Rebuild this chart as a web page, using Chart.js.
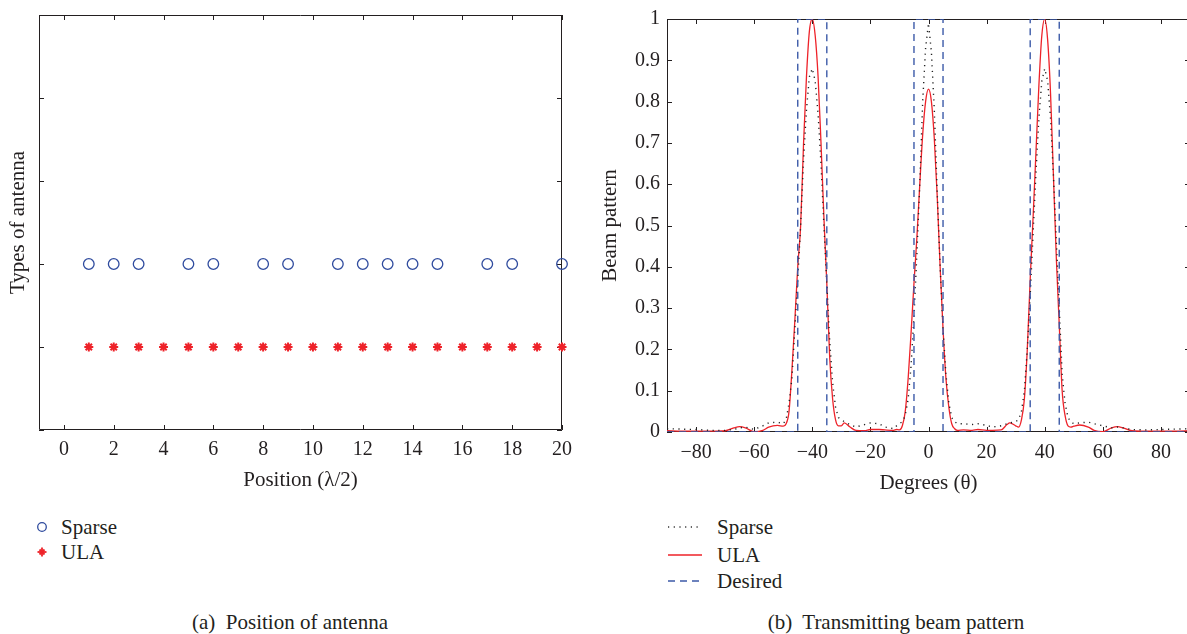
<!DOCTYPE html>
<html>
<head>
<meta charset="utf-8">
<script src="https://cdn.jsdelivr.net/npm/chart.js@4.4.1/dist/chart.umd.min.js"></script>
<style>
html,body{margin:0;padding:0;background:#fff;overflow:hidden;width:1187px;height:634px}
body{position:relative;font-family:"Liberation Serif","Times New Roman",serif;color:#231f20}
.box{position:absolute;top:0;height:500px}
#boxA{left:0;width:580px}
#boxB{left:590px;width:604px}
.t{position:absolute;font-size:21px;line-height:24px;white-space:nowrap}
.sym{position:absolute}
.cap{transform:translateX(-50%)}
</style>
</head>
<body>
<div class="box" id="boxA"><canvas id="posChart"></canvas></div>
<div class="box" id="boxB"><canvas id="beamChart"></canvas></div>

<!-- legend (a) -->
<svg class="sym" style="left:34px;top:519px" width="16" height="16"><circle cx="8" cy="8" r="4.3" fill="none" stroke="#2f4b9e" stroke-width="1.3"/></svg>
<div class="t" style="left:61px;top:515px">Sparse</div>
<svg class="sym" style="left:34px;top:544px" width="16" height="16"><g stroke="#ee2229" stroke-width="1.8"><line x1="8" y1="3.5" x2="8" y2="12.5"/><line x1="3.5" y1="8" x2="12.5" y2="8"/><line x1="5.5" y1="5.5" x2="10.5" y2="10.5"/><line x1="10.5" y1="5.5" x2="5.5" y2="10.5"/></g></svg>
<div class="t" style="left:61px;top:540px">ULA</div>

<!-- legend (b) -->
<svg class="sym" style="left:666px;top:519px" width="40" height="16"><line x1="2" y1="8" x2="36" y2="8" stroke="#333" stroke-width="1.3" stroke-dasharray="1.2 4.5"/></svg>
<div class="t" style="left:717px;top:515px">Sparse</div>
<svg class="sym" style="left:666px;top:547px" width="40" height="16"><line x1="2" y1="8" x2="36" y2="8" stroke="#ee2229" stroke-width="1.4"/></svg>
<div class="t" style="left:717px;top:543px">ULA</div>
<svg class="sym" style="left:666px;top:573px" width="40" height="16"><line x1="2" y1="8" x2="36" y2="8" stroke="#3c5aa8" stroke-width="1.4" stroke-dasharray="7 5"/></svg>
<div class="t" style="left:717px;top:569px">Desired</div>

<div class="t cap" style="left:290px;top:610px">(a)&nbsp; Position of antenna</div>
<div class="t cap" style="left:896px;top:610px">(b)&nbsp; Transmitting beam pattern</div>

<script>
// ---- data: (a) antenna positions ----
const POS_TICKS = [0, 2, 4, 6, 8, 10, 12, 14, 16, 18, 20];
const TYPE_TICKS = [0, 1, 2, 3, 4, 5];
const SPARSE_POS = [1, 2, 3, 5, 6, 8, 9, 11, 12, 13, 14, 15, 17, 18, 20];
const ULA_POS = [1, 2, 3, 4, 5, 6, 7, 8, 9, 10, 11, 12, 13, 14, 15, 16, 17, 18, 19, 20];
const SPARSE_LEVEL = 2;
const ULA_LEVEL = 1;

// ---- data: (b) beam pattern ----
const DEG_TICKS = [-80, -60, -40, -20, 0, 20, 40, 60, 80];
const BP_TICKS = [0, 0.1, 0.2, 0.3, 0.4, 0.5, 0.6, 0.7, 0.8, 0.9, 1];
const DEG = [
  -90, -85, -80, -75, -70, -67, -65, -63, -60, -57, -55, -52, -50,
  -49, -48, -47, -46, -45, -44, -43, -42, -41, -40, -39, -38, -37, -36, -35, -34, -33, -32, -31,
  -30, -29, -27, -25, -22, -20, -17, -15, -12, -11,
  -10, -9, -8, -7, -6, -5, -4, -3, -2, -1, 0, 1, 2, 3, 4, 5, 6, 7, 8, 9, 10,
  12, 15, 17, 20, 22, 25, 27, 28, 30, 31,
  32, 33, 34, 35, 36, 37, 38, 39, 40, 41, 42, 43, 44, 45, 46, 47, 48, 49,
  50, 52, 55, 57, 60, 63, 65, 67, 70, 75, 80, 85, 90
];
const ULA_BP = [
  0.003, 0.002, 0.002, 0.002, 0.003, 0.010, 0.013, 0.010, 0.001, 0.004, 0.012, 0.016, 0.014,
  0.02, 0.05, 0.15, 0.27, 0.40, 0.50, 0.70, 0.86, 0.97, 1.00, 0.96, 0.86, 0.70, 0.52, 0.36, 0.18, 0.08, 0.03, 0.015,
  0.015, 0.022, 0.012, 0.004, 0.003, 0.006, 0.006, 0.005, 0.004, 0.006,
  0.005, 0.015, 0.05, 0.13, 0.24, 0.36, 0.47, 0.60, 0.72, 0.80, 0.83, 0.80, 0.71, 0.57, 0.40, 0.25, 0.13, 0.06, 0.02, 0.008, 0.004,
  0.005, 0.004, 0.006, 0.004, 0.004, 0.005, 0.018, 0.022, 0.015, 0.012,
  0.03, 0.08, 0.20, 0.37, 0.52, 0.68, 0.84, 0.96, 1.00, 0.95, 0.82, 0.62, 0.42, 0.26, 0.10, 0.04, 0.015, 0.012,
  0.014, 0.017, 0.012, 0.004, 0.001, 0.010, 0.013, 0.010, 0.003, 0.002, 0.002, 0.002, 0.003
];
const SPARSE_BP = [
  0.008, 0.007, 0.006, 0.004, 0.004, 0.006, 0.010, 0.012, 0.006, 0.015, 0.022, 0.024, 0.020,
  0.03, 0.07, 0.13, 0.25, 0.37, 0.50, 0.66, 0.78, 0.86, 0.88, 0.85, 0.77, 0.65, 0.50, 0.36, 0.22, 0.12, 0.06, 0.035,
  0.03, 0.025, 0.018, 0.012, 0.018, 0.022, 0.02, 0.012, 0.008, 0.015,
  0.02, 0.025, 0.04, 0.08, 0.16, 0.28, 0.43, 0.60, 0.80, 0.93, 0.99, 0.92, 0.78, 0.58, 0.40, 0.25, 0.14, 0.07, 0.035, 0.025, 0.02,
  0.02, 0.018, 0.02, 0.016, 0.012, 0.015, 0.02, 0.022, 0.025, 0.03,
  0.05, 0.10, 0.20, 0.33, 0.48, 0.63, 0.76, 0.85, 0.88, 0.85, 0.76, 0.62, 0.46, 0.30, 0.14, 0.07, 0.035, 0.025,
  0.02, 0.022, 0.024, 0.02, 0.015, 0.01, 0.012, 0.01, 0.006, 0.005, 0.006, 0.007, 0.008
];
const DESIRED_X = [-90, -45, -45, -35, -35, -5, -5, 5, 5, 35, 35, 45, 45, 90];
const DESIRED_Y = [0, 0, 1, 1, 0, 0, 1, 1, 0, 0, 1, 1, 0, 0];

const INK = '#231f20';
const RED = '#ee2229';
const BLUE = '#2f4b9e';
const DASH_BLUE = '#3c5aa8';

Chart.defaults.font.family = '"Liberation Serif", "Times New Roman", serif';
Chart.defaults.font.size = 20;
Chart.defaults.color = INK;

// MATLAB-like box with inward ticks on all four sides
const boxTicks = {
  id: 'boxTicks',
  beforeDatasetsDraw(chart) {
    const { ctx, chartArea: a, scales: { x, y } } = chart;
    const L = 5;
    ctx.save();
    ctx.strokeStyle = INK;
    ctx.lineWidth = 1;
    ctx.beginPath();
    ctx.rect(a.left + .5, a.top + .5, a.right - a.left - 1, a.bottom - a.top - 1);
    x.ticks.forEach(t => {
      const px = Math.round(x.getPixelForValue(t.value)) + .5;
      ctx.moveTo(px, a.bottom); ctx.lineTo(px, a.bottom - L);
      ctx.moveTo(px, a.top); ctx.lineTo(px, a.top + L);
    });
    y.ticks.forEach(t => {
      const py = Math.round(y.getPixelForValue(t.value)) + .5;
      ctx.moveTo(a.left, py); ctx.lineTo(a.left + L, py);
      ctx.moveTo(a.right, py); ctx.lineTo(a.right - L, py);
    });
    ctx.stroke();
    ctx.restore();
  }
};

const plainAxis = { grid: { display: false, drawTicks: false }, border: { display: false } };

// ===== (a) Position of antenna =====
new Chart(document.getElementById('posChart'), {
  type: 'scatter',
  data: {
    datasets: [
      { label: 'Sparse', data: SPARSE_POS.map(p => ({ x: p, y: SPARSE_LEVEL })),
        pointStyle: 'circle', pointRadius: 5.3, borderWidth: 1.3,
        borderColor: BLUE, backgroundColor: 'rgba(0,0,0,0)', clip: false },
      { label: 'ULA', data: ULA_POS.map(p => ({ x: p, y: ULA_LEVEL })),
        pointStyle: 'star', pointRadius: 4.5, borderWidth: 2,
        borderColor: RED, backgroundColor: RED, clip: false }
    ]
  },
  options: {
    responsive: true, maintainAspectRatio: false, animation: false,
    layout: { padding: { top: 8, right: 17, bottom: 0, left: 0 } },
    plugins: { legend: { display: false }, tooltip: { enabled: false } },
    scales: {
      x: { ...plainAxis, type: 'linear', min: -1, max: 20,
        afterBuildTicks: s => { s.ticks = POS_TICKS.map(v => ({ value: v })); },
        afterFit: s => { s.height = 70; },
        ticks: { padding: 8, color: INK },
        title: { display: true, text: 'Position (λ/2)', color: INK, font: { size: 21 }, padding: { top: 0, bottom: 7 } } },
      y: { ...plainAxis, type: 'linear', min: 0, max: 5,
        afterBuildTicks: s => { s.ticks = TYPE_TICKS.map(v => ({ value: v })); },
        afterFit: s => { s.width = 39; },
        ticks: { callback: () => '' },
        title: { display: true, text: 'Types of antenna', color: INK, font: { size: 21 }, padding: { top: 6, bottom: 0 } } }
    }
  },
  plugins: [boxTicks]
});

// ===== (b) Transmitting beam pattern =====
new Chart(document.getElementById('beamChart'), {
  type: 'line',
  data: {
    datasets: [
      { label: 'Desired', data: DESIRED_X.map((x, i) => ({ x, y: DESIRED_Y[i] })),
        borderColor: DASH_BLUE, borderWidth: 1.4, borderDash: [7, 5], pointRadius: 0, order: 1 },
      { label: 'Sparse', data: DEG.map((x, i) => ({ x, y: SPARSE_BP[i] })),
        borderColor: '#222', borderWidth: 1.4, borderDash: [1.2, 4.5], pointRadius: 0, order: 2 },
      { label: 'ULA', data: DEG.map((x, i) => ({ x, y: ULA_BP[i] })),
        borderColor: RED, borderWidth: 1.3, pointRadius: 0, cubicInterpolationMode: 'monotone', order: 3 }
    ]
  },
  options: {
    responsive: true, maintainAspectRatio: false, animation: false,
    layout: { padding: { top: 11, right: 4, bottom: 0, left: 0 } },
    plugins: { legend: { display: false }, tooltip: { enabled: false } },
    scales: {
      x: { ...plainAxis, type: 'linear', min: -90, max: 90,
        afterBuildTicks: s => { s.ticks = DEG_TICKS.map(v => ({ value: v })); },
        afterFit: s => { s.height = 68; },
        ticks: { padding: 9, color: INK, callback: v => (v < 0 ? '\u2212' + Math.abs(v) : String(v)) },
        title: { display: true, text: 'Degrees (θ)', color: INK, font: { size: 21 }, padding: { top: 0, bottom: 4 } } },
      y: { ...plainAxis, type: 'linear', min: 0, max: 1,
        afterBuildTicks: s => { s.ticks = BP_TICKS.map(v => ({ value: v })); },
        afterFit: s => { s.width = 77; },
        ticks: { padding: 7, color: INK, callback: v => String(Math.round(v * 10) / 10) },
        title: { display: true, text: 'Beam pattern', color: INK, font: { size: 21 }, padding: { top: 8, bottom: 0 } } }
    }
  },
  plugins: [boxTicks]
});
</script>
</body>
</html>
